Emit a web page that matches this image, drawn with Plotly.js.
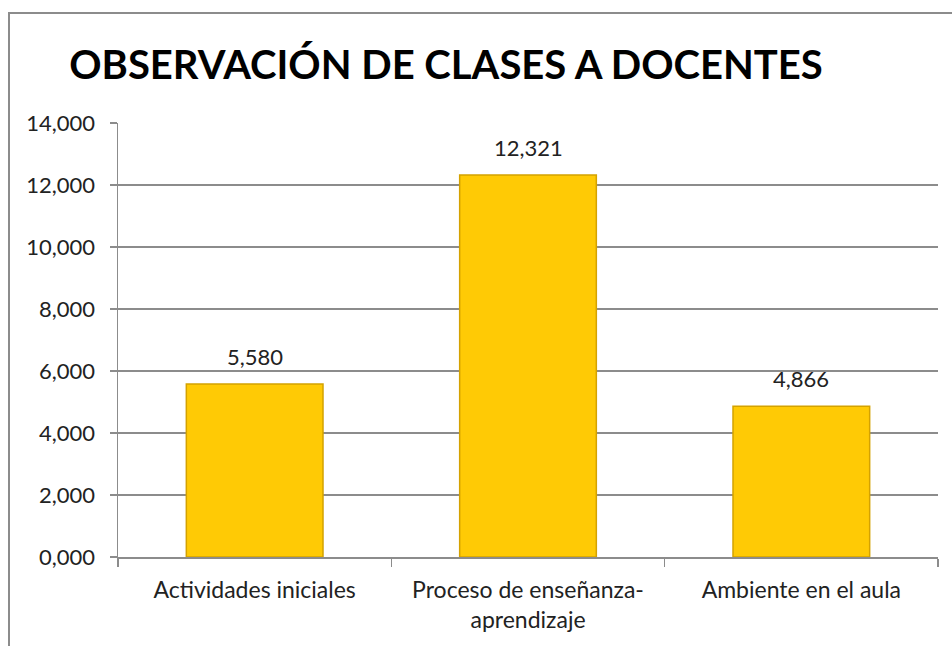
<!DOCTYPE html>
<html>
<head>
<meta charset="utf-8">
<script src="https://cdn.plot.ly/plotly-3.0.1.min.js"></script>
<style>
html,body{margin:0;padding:0;background:#fff;}
#wrap{position:relative;width:952px;height:646px;overflow:hidden;}
#chart{position:absolute;left:0;top:0;width:952px;height:646px;}
#frame{position:absolute;left:8px;top:12px;width:1000px;height:700px;border-left:2px solid #8c8c8c;border-top:2px solid #8c8c8c;pointer-events:none;}
</style>
</head>
<body>
<div id="wrap"><div id="chart"></div><div id="frame"></div></div>
<script>
const categories = ["Actividades iniciales", "Proceso de enseñanza-<br>aprendizaje", "Ambiente en el aula"];
const values = [5.580, 12.321, 4.866];
const yTicks = [0, 2, 4, 6, 8, 10, 12, 14];

const FONT = "Lato, 'Open Sans', sans-serif";
const fmt = v => v.toFixed(3).replace(".", ",");

const trace = {
  type: "bar",
  x: categories,
  y: values,
  width: 0.5,
  marker: {color: "#FFCA05", line: {color: "#D4A200", width: 1.5}},
  hoverinfo: "none"
};

const annotations = categories.map((c, i) => ({
  x: c, y: values[i], xref: "x", yref: "y",
  text: fmt(values[i]),
  showarrow: false, yanchor: "bottom", xanchor: "center",
  yshift: 12,
  font: {family: FONT, size: 22, color: "#222"}
}));

const layout = {
  width: 952, height: 646,
  separators: ",.",
  paper_bgcolor: "rgba(0,0,0,0)",
  plot_bgcolor: "#fff",
  margin: {l: 118, r: 14, t: 123, b: 89},
  showlegend: false,
  title: {
    text: "<b>OBSERVACIÓN DE CLASES A DOCENTES</b>",
    font: {family: FONT, size: 40, color: "#000"},
    x: 0.4685, xanchor: "center", xref: "container",
    y: 0.90, yanchor: "middle"
  },
  font: {family: FONT, size: 22, color: "#222"},
  annotations: annotations,
  xaxis: {
    type: "category",
    showline: true, linecolor: "#8c8c8c", linewidth: 1.5,
    ticks: "outside", tickson: "boundaries", ticklen: 8, tickcolor: "#8c8c8c", tickwidth: 1.5,
    tickfont: {size: 23, color: "#222"},
    ticklabelstandoff: 12,
    showgrid: false, zeroline: false,
    fixedrange: true
  },
  yaxis: {
    range: [0, 14],
    tickvals: yTicks,
    tickformat: ".3f",
    showline: true, linecolor: "#8c8c8c", linewidth: 1.5,
    ticks: "outside", ticklen: 7, tickcolor: "#8c8c8c", tickwidth: 1.5,
    ticklabelstandoff: 10,
    showgrid: true, gridcolor: "#8c8c8c", gridwidth: 1.2,
    zeroline: false,
    tickfont: {size: 22, color: "#222"},
    fixedrange: true
  },
  bargap: 0.5
};

Plotly.newPlot("chart", [trace], layout, {displayModeBar: false, staticPlot: true});
</script>
</body>
</html>
